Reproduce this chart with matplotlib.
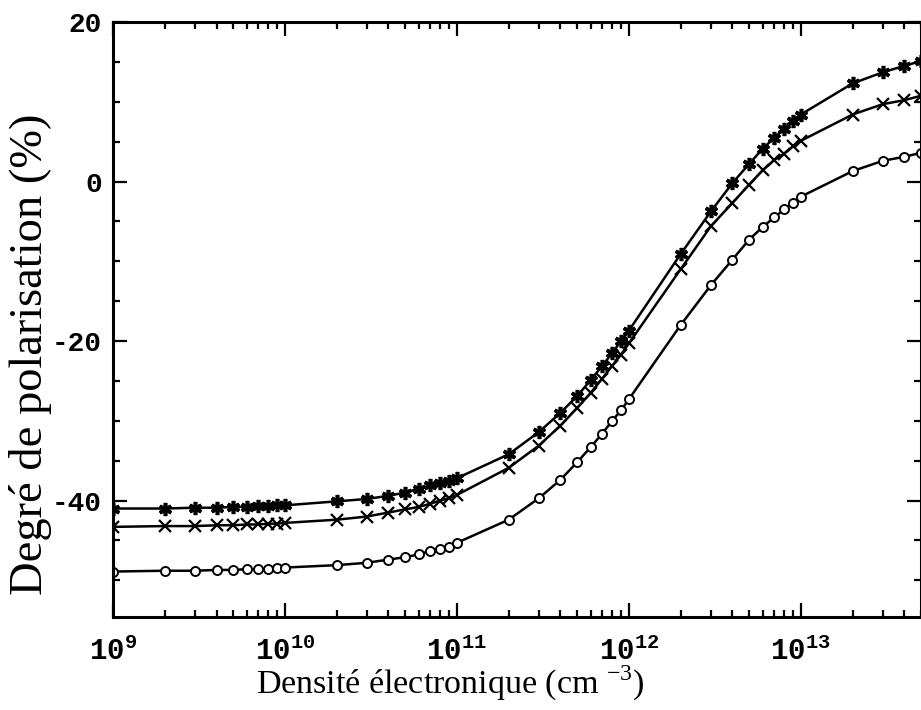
import matplotlib
matplotlib.use("Agg")
import matplotlib.pyplot as plt
from matplotlib.ticker import MultipleLocator, LogLocator, NullFormatter

plt.rcParams['mathtext.fontset'] = 'custom'
plt.rcParams['mathtext.rm'] = 'Liberation Mono:bold'
plt.rcParams['mathtext.sf'] = 'Liberation Serif'
plt.rcParams['axes.unicode_minus'] = False

# densite electronique (cm-3)
densite = [1e9, 2e9, 3e9, 4e9, 5e9, 6e9, 7e9, 8e9, 9e9,
           1e10, 2e10, 3e10, 4e10, 5e10, 6e10, 7e10, 8e10, 9e10,
           1e11, 2e11, 3e11, 4e11, 5e11, 6e11, 7e11, 8e11, 9e11,
           1e12, 2e12, 3e12, 4e12, 5e12, 6e12, 7e12, 8e12, 9e12,
           1e13, 2e13, 3e13, 4e13, 5e13]

# degre de polarisation (%) for the three curves
pol_etoile = [-41.0, -41.0, -40.9, -40.9, -40.8, -40.8, -40.7, -40.7, -40.6,
              -40.6, -40.1, -39.8, -39.4, -39.0, -38.5, -38.1, -37.8, -37.6,
              -37.2, -34.2, -31.4, -29.0, -26.9, -24.9, -23.1, -21.5, -20.0,
              -18.7, -9.1, -3.75, -0.2, 2.2, 4.1, 5.5, 6.6, 7.6,
              8.4, 12.3, 13.7, 14.5, 15.1]
pol_croix = [-43.3, -43.2, -43.2, -43.1, -43.1, -43.0, -43.0, -42.9, -42.9,
             -42.8, -42.4, -42.0, -41.5, -41.1, -40.8, -40.4, -40.0, -39.7,
             -39.3, -35.9, -33.1, -30.6, -28.4, -26.5, -24.7, -23.1, -21.7,
             -20.3, -11.0, -5.6, -2.7, -0.4, 1.4, 2.7, 3.5, 4.4,
             5.1, 8.4, 9.7, 10.2, 10.75]
pol_cercle = [-48.9, -48.8, -48.8, -48.7, -48.7, -48.6, -48.6, -48.6, -48.5,
              -48.4, -48.1, -47.8, -47.4, -47.1, -46.75, -46.3, -46.1, -45.8,
              -45.3, -42.4, -39.7, -37.4, -35.2, -33.3, -31.6, -30.0, -28.7,
              -27.3, -18.0, -13.0, -9.8, -7.3, -5.7, -4.5, -3.5, -2.7,
              -1.9, 1.3, 2.6, 3.1, 3.6]

xticks = [1e9, 1e10, 1e11, 1e12, 1e13]
xticklabels = [r'$10^{9}$', r'$10^{10}$', r'$10^{11}$', r'$10^{12}$', r'$10^{13}$']
yticks = [-40, -20, 0, 20]
yticklabels = ['-40', '-20', '0', '20']

fig = plt.figure(figsize=(9.21, 7.10), dpi=100)
ax = fig.add_axes([113/921, 93/710, 808/921, 595/710])

ax.plot(densite, pol_etoile, color='black', lw=1.8, marker=(6, 2, 0),
        ms=9.5, mew=2.6, mec='black')
ax.plot(densite, pol_croix, color='black', lw=1.8, marker='x',
        ms=8, mew=1.6)
ax.plot(densite, pol_cercle, color='black', lw=1.8, marker='o',
        ms=6.5, mew=1.4, mfc='white', mec='black')

ax.set_xscale('log')
ax.set_xlim(1e9, 5e13)
ax.set_ylim(-54.6, 20)

ax.set_xticks(xticks, labels=xticklabels, fontsize=21)
ax.xaxis.set_minor_locator(LogLocator(base=10, subs=range(2, 10), numticks=20))
ax.xaxis.set_minor_formatter(NullFormatter())
ax.set_yticks(yticks, labels=yticklabels, fontsize=20,
              fontfamily='Liberation Mono', fontweight='bold')
ax.yaxis.set_minor_locator(MultipleLocator(5))

ax.tick_params(which='both', direction='in', top=True, right=True, width=1.6)
ax.tick_params(which='major', length=10)
ax.tick_params(which='minor', length=5)
ax.tick_params(axis='x', which='major', pad=14)
ax.tick_params(axis='y', which='major', pad=8)

for s in ax.spines.values():
    s.set_linewidth(2.2)

ax.set_xlabel('Densité électronique (cm $^{\\mathsf{-3}}$)',
              fontfamily='Liberation Serif', fontsize=24.5)
ax.xaxis.set_label_coords(0.417, -0.078)
ax.set_ylabel('Degré de polarisation (%)',
              fontfamily='Liberation Serif', fontsize=33.5)
ax.yaxis.set_label_coords(-0.075, 0.442)

fig.savefig('out.png', dpi=100)
